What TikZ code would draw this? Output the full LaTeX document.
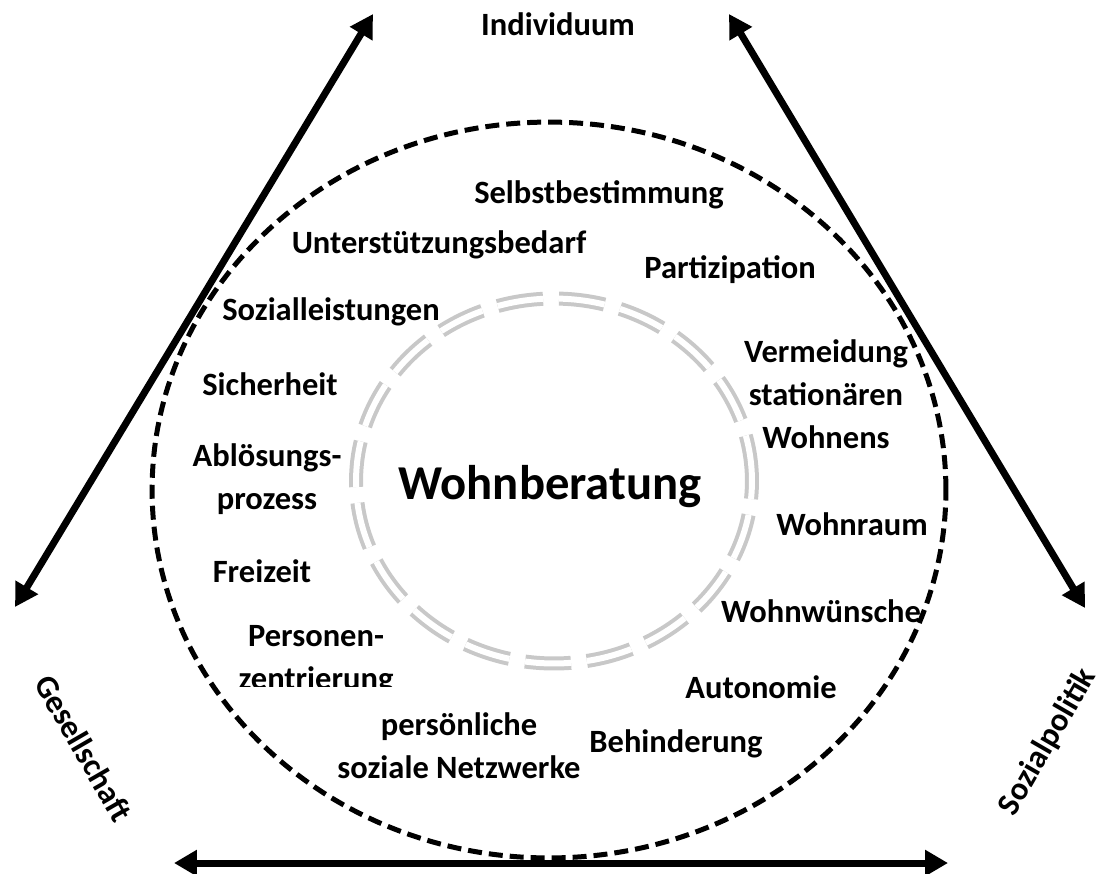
\documentclass[tikz,border=0pt]{standalone}
\usepackage{fontspec}
\setmainfont{Carlito}
\usetikzlibrary{arrows.meta, positioning}
\definecolor{ringgray}{HTML}{C8C8C8}
\tikzset{
	termnode/.style={
			font=\bfseries\fontsize{18.5}{24.5}\selectfont,
			align=center,
			inner sep=0pt
		},
	titlenode/.style={
			termnode,
			font=\bfseries\fontsize{27.7}{33}\selectfont
		},
	axisarrow/.style={
			line width=0.14cm,
			{Triangle[length=0.46cm, width=0.5cm]}-{Triangle[length=0.46cm, width=0.5cm]}
		},
	outerring/.style={
			draw=black,
			line width=0.1cm,
			dash pattern=on 0.28cm off 0.14cm
		},
	innerring/.style={
			draw=ringgray,
			line width=0.08cm,
			double=white,
			double distance=0.12cm,
			dash pattern=on 0.92cm off 0.32cm
		}
}

\begin{document}
\begin{tikzpicture}[x=0.02cm, y=-0.02cm]
\useasboundingbox (0,0) rectangle (1101,873);

% rings
\draw[outerring] (549,490) ellipse [x radius=7.94cm, y radius=7.36cm];
\draw[innerring] (554,481) ellipse [x radius=3.96cm, y radius=3.65cm];

% axes
\coordinate (topl) at (373,14);
\coordinate (topr) at (729,14);
\coordinate (botl) at (15,607);
\coordinate (botr) at (1085,608);
\coordinate (basel) at (174,863);
\coordinate (baser) at (948,863);

\draw[axisarrow] (botl) -- (topl);
\draw[axisarrow] (topr) -- (botr);
\draw[axisarrow] (basel) -- (baser);

\node[termnode] (ind) at (558,24) {Individuum};
\node[termnode, rotate=-60] (ges) at (84,748) {Gesellschaft};
\node[termnode, rotate=60] (sozpol) at (1048,742) {Sozialpolitik};

\node[titlenode] (wb) at (550,487) {Wohnberatung};

\node[termnode] (selbst) at (599,195) {Selbstbestimmung};
\node[termnode] (unterst) at (439,245) {Unterstützungsbedarf};
\node[termnode] (partiz) at (730,270) {Partizipation};
\node[termnode] (sozleist) at (331,312) {Sozialleistungen};
\node[termnode] (vermeid) at (826,394) {Vermeidung\\stationären\\Wohnens};
\node[termnode] (sicher) at (270,384) {Sicherheit};
\node[termnode] (abloes) at (267,479) {Ablösungs-\\prozess};
\node[termnode] (wraum) at (852,524) {Wohnraum};
\node[termnode] (frei) at (262,571) {Freizeit};
\node[termnode] (wwunsch) at (821,611) {Wohnwünsche};
\begin{scope}
\clip (150,600) rectangle (450,686);
\node[termnode] (person) at (316,660) {Personen-\\zentrierung};
\end{scope}
\node[termnode] (auton) at (761,687) {Autonomie};
\node[termnode] (netz) at (459,746) {persönliche\\soziale Netzwerke};
\node[termnode] (behind) at (676,744) {Behinderung};
\end{tikzpicture}
\end{document}
